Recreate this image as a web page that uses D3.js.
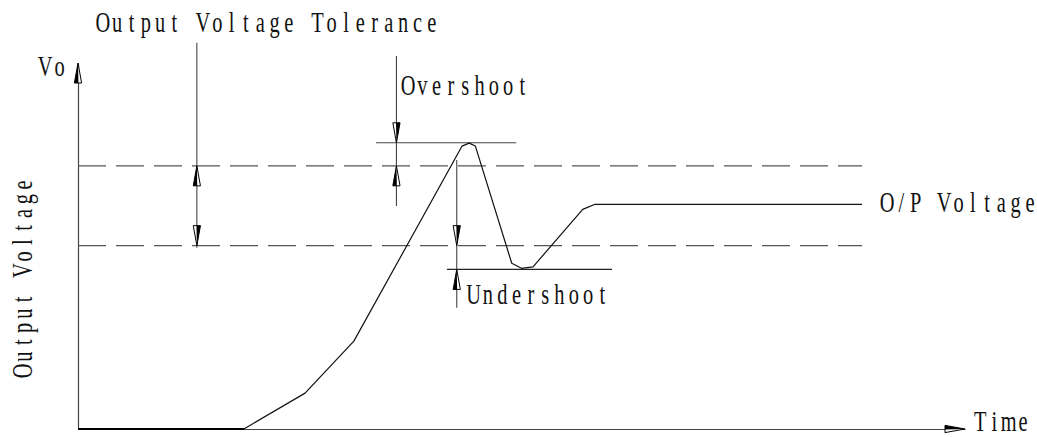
<!DOCTYPE html>
<html>
<head>
<meta charset="utf-8">
<script src="https://cdn.jsdelivr.net/npm/d3@7"></script>
<style>
  body { margin: 0; background: #fff; }
  svg { display: block; }
</style>
</head>
<body>
<div id="chart"></div>
<script>
// waveform (time, voltage) in chart units
var waveT = [0, 18.7, 25.6, 31.1, 43.3, 44.1, 44.8, 48.9, 50.0, 51.3, 56.9, 58.3, 88.4];
var waveV = [0, 0, 9.8, 24.0, 77.3, 78.1, 77.3, 45.3, 43.9, 44.3, 60.0, 61.4, 61.4];

// tolerance band and the extremes
var tolHigh = 71.9, tolLow = 50.1;
var overLevel = 78.2, underLevel = 43.6;
var bandEnd = 88.4;
var overSpan = [33.6, 49.4];
var underSpan = [41.6, 60.2];

// dimension lines: time, top, bottom
var tolDim = [13.4, 105.5, 49.5];
var overDim = [35.9, 101.9, 60.9];
var underDim = [42.7, 73.5, 33.1];

// labels
var labels = [
  {text: "Output Voltage Tolerance", t: 2.0, v: 108.6},
  {text: "Vo", t: -4.5, v: 96.4},
  {text: "Overshoot", t: 36.4, v: 91.2},
  {text: "Undershoot", t: 43.8, v: 34.1},
  {text: "O/P Voltage", t: 90.4, v: 59.3},
  {text: "Time", t: 100.9, v: -0.5}
];
var yTitle = "Output Voltage";

var width = 1037, height = 437;
var svg = d3.select("#chart").append("svg")
    .attr("width", width)
    .attr("height", height);

var x = d3.scaleLinear().domain([0, 100]).range([78, 965]);
var y = d3.scaleLinear().domain([0, 100]).range([429, 63]);

// axes (plain lines, no ticks)
svg.append("g")
    .attr("transform", "translate(0," + y(0) + ")")
    .call(d3.axisBottom(x).ticks(0).tickSizeOuter(0))
    .select(".domain").attr("stroke", "#444").attr("stroke-width", 1.2);
svg.append("g")
    .attr("transform", "translate(" + x(0) + ",0)")
    .call(d3.axisLeft(y).ticks(0).tickSizeOuter(0))
    .select(".domain").attr("stroke", "#444").attr("stroke-width", 1.2);

// dashed tolerance lines
svg.selectAll("line.tol")
  .data([tolHigh, tolLow])
  .enter().append("line")
    .attr("class", "tol")
    .attr("x1", x(0)).attr("x2", x(bandEnd))
    .attr("y1", function(d) { return y(d); })
    .attr("y2", function(d) { return y(d); })
    .attr("stroke", "#555")
    .attr("stroke-width", 1.2)
    .style("stroke-dasharray", "28,10");

// overshoot / undershoot reference lines
svg.append("line")
    .attr("x1", x(overSpan[0])).attr("x2", x(overSpan[1]))
    .attr("y1", y(overLevel)).attr("y2", y(overLevel))
    .attr("stroke", "#444").attr("stroke-width", 1.1);
svg.append("line")
    .attr("x1", x(underSpan[0])).attr("x2", x(underSpan[1]))
    .attr("y1", y(underLevel)).attr("y2", y(underLevel))
    .attr("stroke", "#222").attr("stroke-width", 1.1);

// dimension lines
svg.selectAll("line.dim")
  .data([tolDim, overDim, underDim])
  .enter().append("line")
    .attr("class", "dim")
    .attr("x1", function(d) { return x(d[0]); })
    .attr("x2", function(d) { return x(d[0]); })
    .attr("y1", function(d) { return y(d[1]); })
    .attr("y2", function(d) { return y(d[2]); })
    .attr("stroke", "#444")
    .attr("stroke-width", 1.1);

// waveform
var line = d3.line()
    .x(function(d, i) { return x(waveT[i]); })
    .y(function(d, i) { return y(waveV[i]); });
svg.append("path")
    .datum(waveT)
    .attr("d", line)
    .attr("fill", "none")
    .attr("stroke", "#111")
    .attr("stroke-width", 1.2)
    .attr("stroke-linejoin", "round");
// baseline part drawn a bit heavier, like the reference
svg.append("line")
    .attr("x1", x(waveT[0])).attr("x2", x(waveT[1]))
    .attr("y1", y(0)).attr("y2", y(0))
    .attr("stroke", "#000").attr("stroke-width", 2.2);

// CAD style arrowheads: tip at (t, v), rotation in degrees (0 = pointing up)
var arrows = [
  {t: 0, v: 100, rot: 0},
  {t: 100, v: 0, rot: 90},
  {t: tolDim[0], v: tolHigh, rot: 0},
  {t: tolDim[0], v: tolLow, rot: 180},
  {t: overDim[0], v: overLevel, rot: 180},
  {t: overDim[0], v: tolHigh, rot: 0},
  {t: underDim[0], v: tolLow, rot: 180},
  {t: underDim[0], v: underLevel, rot: 0}
];
var ah = svg.selectAll("g.arrow")
  .data(arrows)
  .enter().append("g")
    .attr("class", "arrow")
    .attr("transform", function(d) {
      return "translate(" + x(d.t) + "," + y(d.v) + ")rotate(" + d.rot + ")";
    });
ah.append("path")
    .attr("d", "M0,0L-3.6,20L3.6,20Z")
    .attr("fill", "#fff")
    .attr("stroke", "#000")
    .attr("stroke-width", 1)
    .attr("stroke-linejoin", "miter");
ah.append("path")
    .attr("d", "M0,0L-3.6,20L0.4,20Z")
    .attr("fill", "#000");

// text: narrow serif, fixed advance per character (monospace look)
var adv = 14.3, sx = 0.68;
function monoText(sel, str) {
  var chars = str.split("");
  sel.selectAll("tspan")
    .data(chars)
    .enter().append("tspan")
      .attr("x", function(d, i) { return ((i + 0.5) * adv) / sx; })
      .text(function(d) { return d; });
}
var font = "'Liberation Serif', 'DejaVu Serif', serif";

labels.forEach(function(l) {
  var t = svg.append("text")
      .attr("transform", "translate(" + x(l.t) + "," + y(l.v) + ")scale(" + sx + ",1)")
      .attr("text-anchor", "middle")
      .style("font-family", font)
      .style("font-size", "30px")
      .attr("fill", "#111")
      .attr("xml:space", "preserve");
  monoText(t, l.text);
});

var yt = svg.append("text")
    .attr("transform", "translate(32,378)rotate(-90)scale(" + sx + ",1)")
    .attr("text-anchor", "middle")
    .style("font-family", font)
    .style("font-size", "30px")
    .attr("fill", "#111")
    .attr("xml:space", "preserve");
monoText(yt, yTitle);
</script>
</body>
</html>
